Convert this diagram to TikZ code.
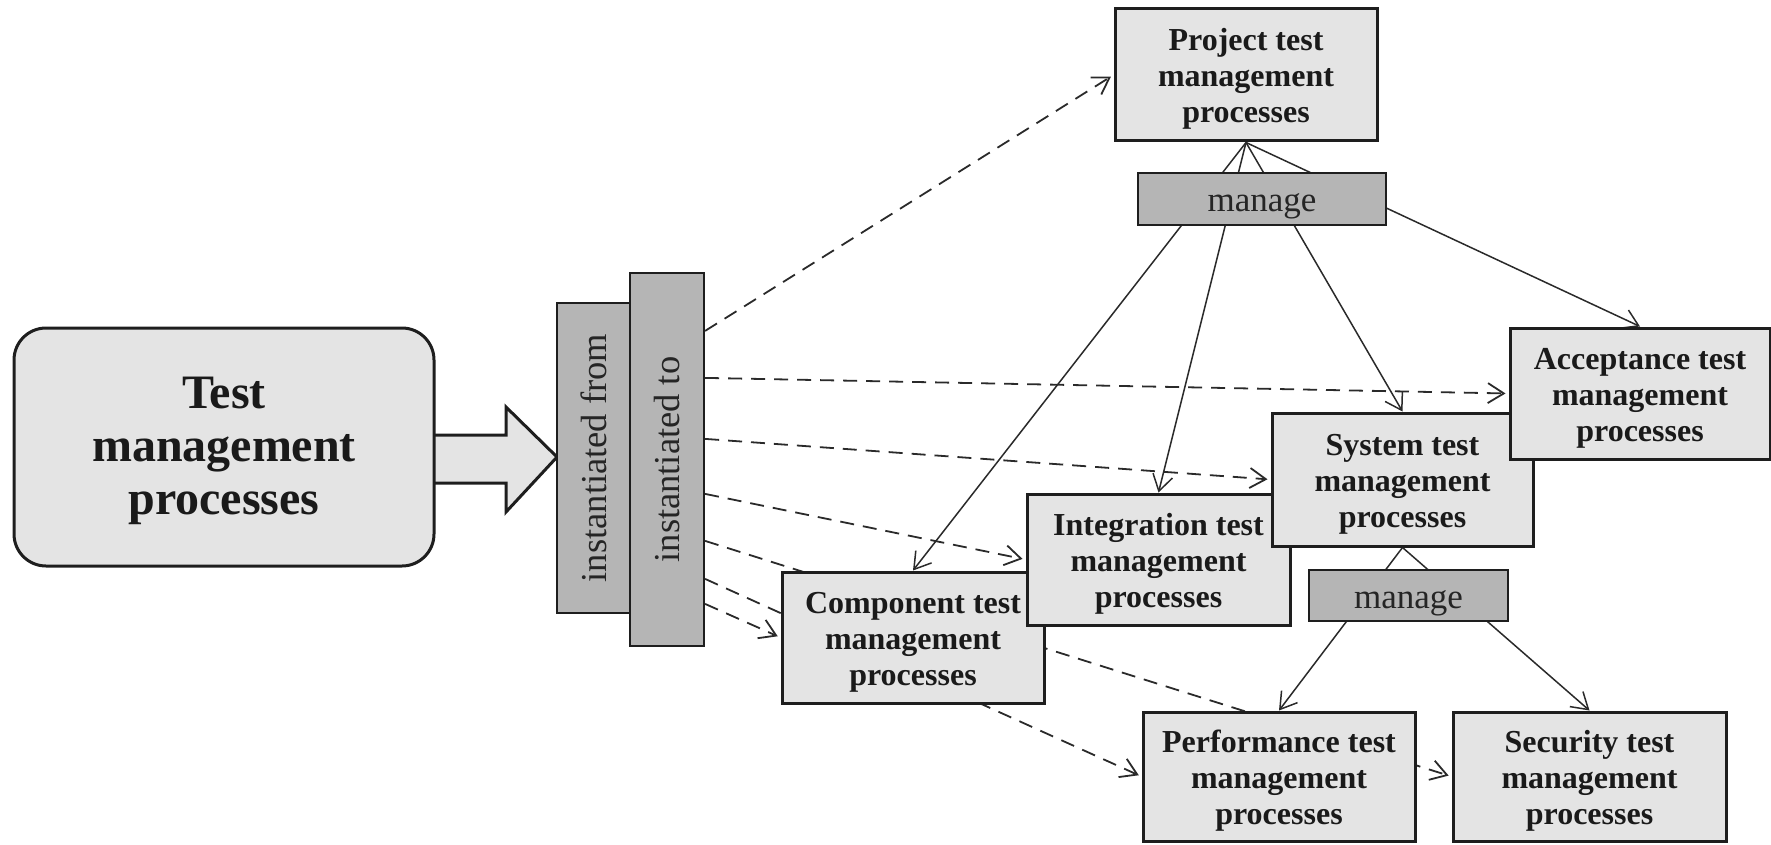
\documentclass[tikz,border=0pt]{standalone}
\usepackage{fontspec}
\setmainfont{Liberation Serif}
\usepackage{graphicx}
\usetikzlibrary{arrows.meta}
\pgfdeclarelayer{bg}
\pgfsetlayers{bg,main}
\definecolor{lightfill}{HTML}{E4E4E4}
\definecolor{darkfill}{HTML}{B5B5B5}
\definecolor{edgecol}{HTML}{1E1E1E}
\definecolor{txtcol}{HTML}{1A1A1A}
\definecolor{linecol}{HTML}{2A2A2A}
\newcommand{\boxstrut}{\rule{0pt}{30pt}}
\newcommand{\bigstrut}{\rule{0pt}{39pt}}
\newcommand{\mgstrut}{\rule{0pt}{33pt}}
\begin{document}
\begin{tikzpicture}[x=1pt,y=-1pt,
  procbox/.style={draw=edgecol, fill=lightfill, line width=3pt, inner sep=0pt, align=center,
    text=txtcol, font=\fontsize{32}{36}\selectfont\bfseries},
  darkbox/.style={draw=edgecol, fill=darkfill, line width=2.2pt, inner sep=0pt,
    text=txtcol!95, font=\fontsize{35}{38}\selectfont},
  mgr/.style={draw=linecol, line width=1.5pt, -{Straight Barb[length=16pt,width=20pt]}},
  inst/.style={draw=linecol, line width=1.8pt, dash pattern=on 14pt off 9pt,
    -{Straight Barb[length=16pt,width=20pt]}, shorten >=3pt},
  ]
\useasboundingbox (0,0) rectangle (1771,845);

% hollow block arrow
\fill[lightfill] (430,435) -- (506,435) -- (506,407) -- (557,457) -- (506,512) -- (506,483) -- (430,483) -- cycle;
\draw[edgecol, line width=3pt, line join=miter] (434,435) -- (506,435) -- (506,407) -- (557,457) -- (506,512) -- (506,483) -- (434,483);

\node[procbox, rounded corners=32pt, minimum width=420pt, minimum height=238pt,
  font=\fontsize{48}{53}\selectfont\bfseries] (main) at (224,447) {\bigstrut Test\\management\\processes};

\node[darkbox, minimum width=73pt, minimum height=310pt, font=\fontsize{36.5}{38}\selectfont] (instfrom) at (593.5,458) {\rotatebox{90}{instantiated from}};
\node[darkbox, minimum width=74pt, minimum height=373pt, font=\fontsize{36.5}{38}\selectfont] (instto) at (667,459.5) {\rotatebox{90}{instantiated to}};

\node[procbox, minimum width=262pt, minimum height=132pt] (project) at (1246,75) {\boxstrut Project test\\management\\processes};
\node[darkbox, minimum width=248pt, minimum height=52pt] (manageA) at (1262,199) {\mgstrut manage};

\node[procbox, minimum width=262pt, minimum height=131pt] (component) at (913,637.5) {\boxstrut Component test\\management\\processes};
\node[procbox, minimum width=263pt, minimum height=131pt] (integration) at (1158.5,559.5) {\boxstrut Integration test\\management\\processes};
\node[procbox, minimum width=261pt, minimum height=133pt] (system) at (1402.5,479.5) {\boxstrut System test\\management\\processes};
\node[procbox, minimum width=260pt, minimum height=131pt] (acceptance) at (1640,393.5) {\boxstrut Acceptance test\\management\\processes};

\node[darkbox, minimum width=199pt, minimum height=51pt] (manageB) at (1408.5,595.5) {\mgstrut manage};

\node[procbox, minimum width=272pt, minimum height=129pt] (performance) at (1279,776.5) {\boxstrut Performance test\\management\\processes};
\node[procbox, minimum width=273pt, minimum height=129pt] (security) at (1589.5,776.5) {\boxstrut Security test\\management\\processes};

% start points on the right edge of "instantiated to"
\path (instto.north east) ++(0,59) coordinate (d1);
\path (instto.north east) ++(0,106) coordinate (d2);
\path (instto.north east) ++(0,167) coordinate (d3);
\path (instto.north east) ++(0,222) coordinate (d4);
\path (instto.north east) ++(0,269) coordinate (d5);
\path (instto.north east) ++(0,307) coordinate (d6);
\path (instto.north east) ++(0,332) coordinate (d7);

\begin{pgfonlayer}{bg}
\draw[inst] (d1) -- (project.west);
\draw[inst] (d2) -- (acceptance.west);
\draw[inst] (d3) -- (system.west);
\draw[inst] (d4) -- (integration.west);
\draw[inst] (d5) -- (security.west);
\draw[inst] (d6) -- (performance.west);
\draw[inst] (d7) -- (component.west);

\draw[mgr] (project.south) -- (component.north);
\draw[mgr] (project.south) -- (integration.north);
\draw[mgr] (project.south) -- (system.north);
\draw[mgr] (project.south) -- (acceptance.north);
\draw[mgr] (system.south) -- (performance.north);
\draw[mgr] (system.south) -- (security.north);
\end{pgfonlayer}
\end{tikzpicture}
\end{document}
